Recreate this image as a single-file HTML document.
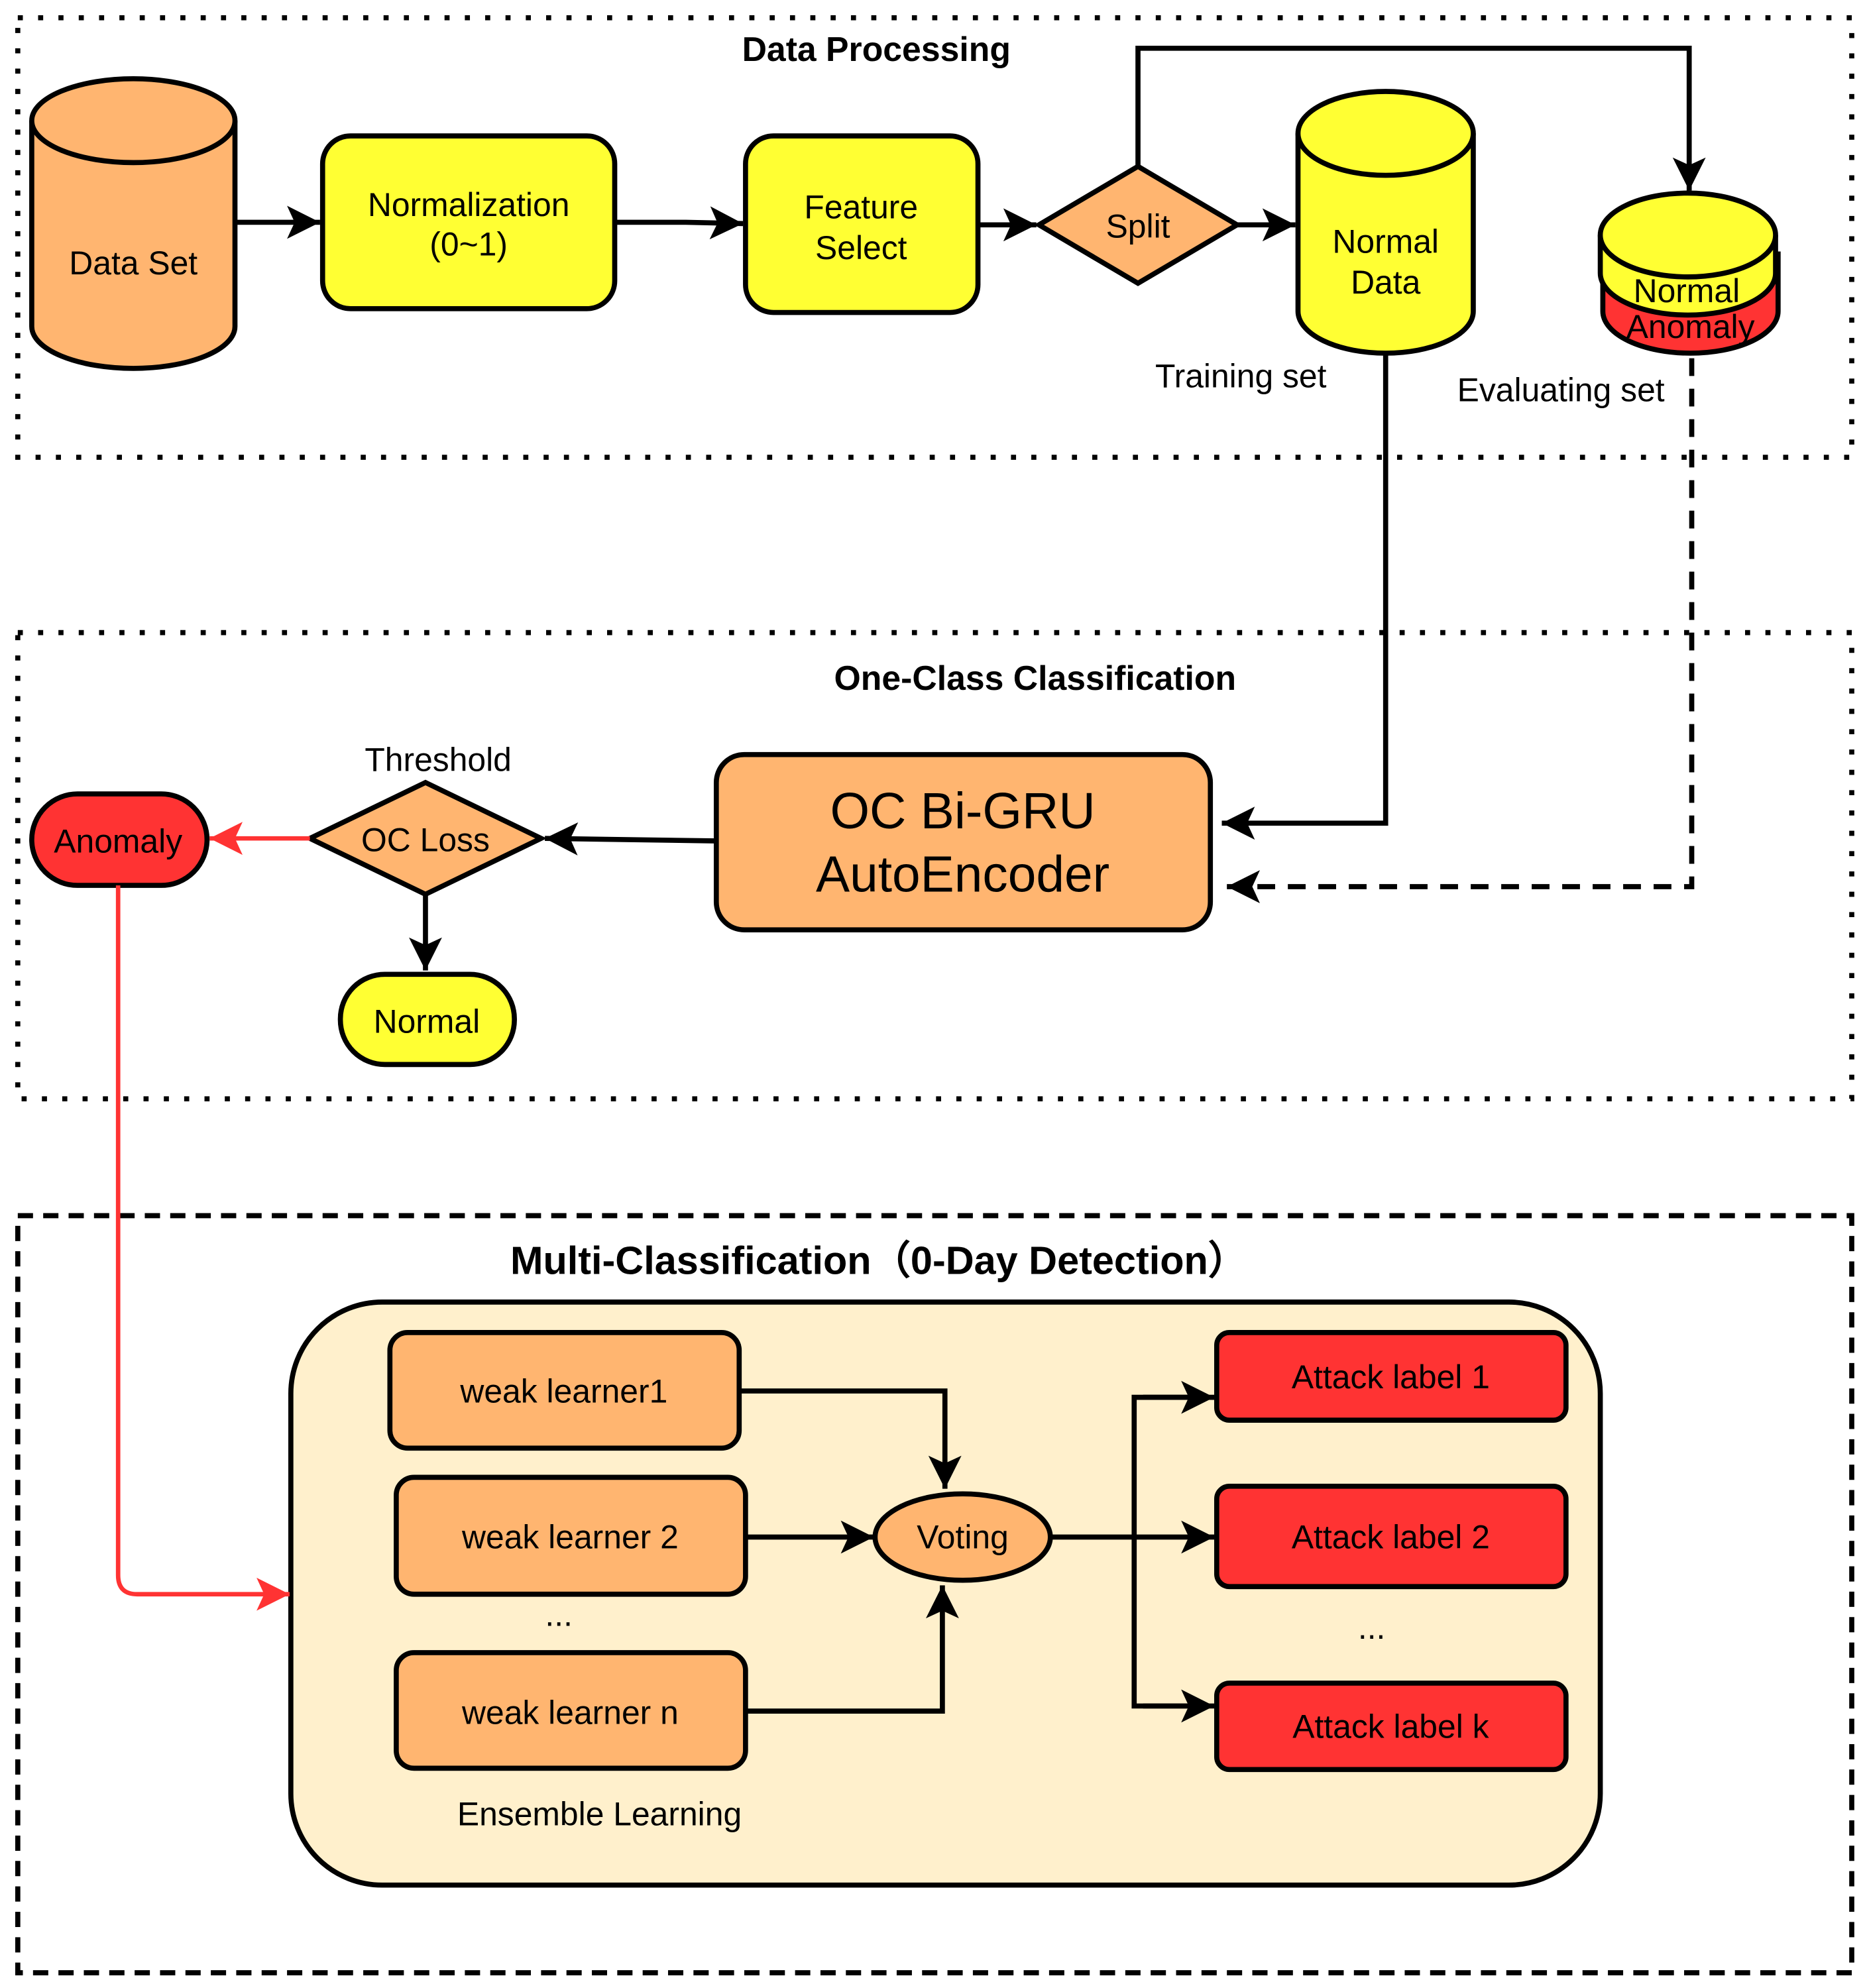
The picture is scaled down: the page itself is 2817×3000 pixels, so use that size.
<!DOCTYPE html>
<html><head><meta charset="utf-8"><style>html,body{margin:0;padding:0;background:#fff}svg{display:block}</style></head>
<body>
<svg width="2817" height="3000" viewBox="0 0 1470 1565" preserveAspectRatio="none" xmlns="http://www.w3.org/2000/svg" font-family="Liberation Sans, Arial, sans-serif">
<defs>
<marker id="a" viewBox="0 0 10 10" refX="10" refY="5" markerWidth="10" markerHeight="10" markerUnits="userSpaceOnUse" orient="auto" overflow="visible">
<path d="M-16,-8 L10,5 L-16,18 L-10,5 Z" fill="#000"/>
</marker>
<marker id="r" viewBox="0 0 10 10" refX="10" refY="5" markerWidth="10" markerHeight="10" markerUnits="userSpaceOnUse" orient="auto" overflow="visible">
<path d="M-16,-8 L10,5 L-16,18 L-10,5 Z" fill="#FF3333"/>
</marker>
</defs>
<g fill="none" stroke="#000" stroke-width="4">
<rect x="14" y="14" width="1444" height="346" stroke-dasharray="4 12"/>
<rect x="14" y="498" width="1444" height="367" stroke-dasharray="4 12"/>
<rect x="14" y="957" width="1444" height="596" stroke-dasharray="12 8"/>
</g>
<g font-weight="bold" font-size="27" text-anchor="middle">
<text x="690" y="48">Data Processing</text>
<text x="815" y="543">One-Class  Classification</text>
<text x="692" y="1003" font-size="31">Multi-Classification（0-Day Detection）</text>
</g>
<g stroke="#000" stroke-width="4">
<path d="M25,95 V257 A80,33 0 0 0 185,257 V95" fill="#FFB570"/>
<ellipse cx="105" cy="95" rx="80" ry="33" fill="#FFB570"/>
<rect x="254" y="107" width="230" height="136" rx="22" fill="#FFFF33"/>
<rect x="587" y="107" width="183" height="139" rx="22" fill="#FFFF33"/>
<polygon points="818,177 896,131 974,177 896,223" fill="#FFB570"/>
<path d="M1022,105 V245 A69,33 0 0 0 1160,245 V105" fill="#FFFF33"/>
<ellipse cx="1091" cy="105" rx="69" ry="33" fill="#FFFF33"/>
<path d="M1262,200 V245 A69,33 0 0 0 1400,245 V200 Z" fill="#FF3333"/>
<path d="M1260,185 V215 A69,33 0 0 0 1398,215 V185" fill="#FFFF33"/>
<ellipse cx="1329" cy="185" rx="69" ry="33" fill="#FFFF33"/>
<rect x="564" y="594" width="389" height="138" rx="22" fill="#FFB570"/>
<polygon points="244,660 335,616 426,660 335,704" fill="#FFB570"/>
<rect x="25" y="625" width="138" height="72" rx="36" fill="#FF3333"/>
<rect x="268" y="767" width="137" height="71" rx="35" fill="#FFFF33"/>
<rect x="229" y="1025" width="1031" height="459" rx="72" fill="#FFF0CC"/>
<rect x="307" y="1049" width="275" height="91" rx="14" fill="#FFB570"/>
<rect x="312" y="1163" width="275" height="92" rx="14" fill="#FFB570"/>
<rect x="312" y="1301" width="275" height="91" rx="14" fill="#FFB570"/>
<ellipse cx="758" cy="1210" rx="69" ry="34" fill="#FFB570"/>
<rect x="958" y="1049" width="275" height="69" rx="10" fill="#FF3333"/>
<rect x="958" y="1170" width="275" height="79" rx="10" fill="#FF3333"/>
<rect x="958" y="1325" width="275" height="68" rx="10" fill="#FF3333"/>
</g>
<g fill="none" stroke="#000" stroke-width="4">
<path d="M185,175 H252" marker-end="url(#a)"/>
<path d="M484,175 H540 L585,176" marker-end="url(#a)"/>
<path d="M770,177 H816" marker-end="url(#a)"/>
<path d="M974,177 H1020" marker-end="url(#a)"/>
<path d="M896,131 V38 H1330 V150" marker-end="url(#a)"/>
<path d="M1091,278 V648 H962" marker-end="url(#a)"/>
<path d="M1332,282 V698 H966" stroke-dasharray="14 10" marker-end="url(#a)"/>
<path d="M564,662 L429,660" marker-end="url(#a)"/>
<path d="M335,704 V764" marker-end="url(#a)"/>
<path d="M582,1095 H744 V1172" marker-end="url(#a)"/>
<path d="M587,1210 H688" marker-end="url(#a)"/>
<path d="M587,1347 H742 V1248" marker-end="url(#a)"/>
<path d="M827,1210 H956" marker-end="url(#a)"/>
<path d="M940,1100 H893 V1343 H940"/>
<path d="M900,1100 H956" marker-end="url(#a)"/>
<path d="M900,1343 H956" marker-end="url(#a)"/>
</g>
<g fill="none" stroke="#FF3333" stroke-width="3.5">
<path d="M244,660 H165" marker-end="url(#r)"/>
<path d="M93,697 V1240 Q93,1255 108,1255 H228" marker-end="url(#r)"/>
</g>
<g font-size="26" text-anchor="middle" fill="#000">
<text x="105" y="216">Data Set</text>
<text x="369" y="170">Normalization</text>
<text x="369" y="201">(0~1)</text>
<text x="678" y="172">Feature</text>
<text x="678" y="204">Select</text>
<text x="896" y="187">Split</text>
<text x="1091" y="199">Normal</text>
<text x="1091" y="231">Data</text>
<text x="1328" y="238">Normal</text>
<text x="1331" y="266">Anomaly</text>
<text x="977" y="305">Training set</text>
<text x="1229" y="316">Evaluating set</text>
<text x="345" y="607">Threshold</text>
<text x="335" y="670">OC Loss</text>
<text x="93" y="671">Anomaly</text>
<text x="336" y="813">Normal</text>
<text x="758" y="652" font-size="40">OC Bi-GRU</text>
<text x="758" y="702" font-size="40">AutoEncoder</text>
<text x="444" y="1104">weak learner1</text>
<text x="449" y="1219">weak learner 2</text>
<text x="440" y="1280">...</text>
<text x="449" y="1357">weak learner n</text>
<text x="472" y="1437">Ensemble Learning</text>
<text x="758" y="1219">Voting</text>
<text x="1095" y="1093">Attack label 1</text>
<text x="1095" y="1219">Attack label 2</text>
<text x="1080" y="1290">...</text>
<text x="1095" y="1368">Attack label k</text>
</g>
</svg>
</body></html>
